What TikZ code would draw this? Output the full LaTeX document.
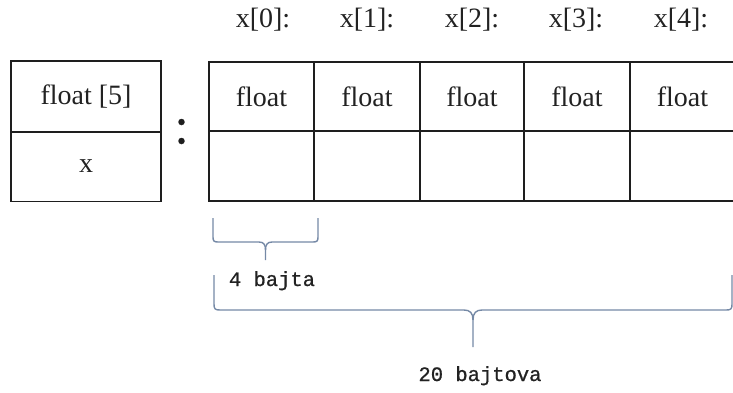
\documentclass[tikz,border=0pt]{standalone}
\usepackage{fontspec}
\setmainfont{Liberation Serif}
\newfontfamily\bracefont[FakeBold=0.8]{Liberation Mono}
\definecolor{gridcol}{HTML}{1E1E1E}
\definecolor{textcol}{HTML}{222222}
\definecolor{bracecol}{HTML}{7589A6}
\begin{document}
\begin{tikzpicture}[x=1pt,y=-1pt,
  cellbox/.style={draw=gridcol, line width=1.7pt, inner sep=0pt,
    minimum height=#1, text=textcol, font=\fontsize{28}{32}\selectfont},
  hdr/.style={text=textcol, anchor=base, inner sep=0pt, font=\fontsize{28}{32}\selectfont},
  dotmark/.style={circle, fill=gridcol, inner sep=0pt, minimum size=6.5pt},
  bracepath/.style={draw=bracecol, line width=1.4pt},
  bracelabel/.style={text=textcol, anchor=base, inner sep=0pt, font=\bracefont\fontsize{20.5}{24}\selectfont}]
\useasboundingbox (0,0) rectangle (733,392);
\clip (0,0) rectangle (733,392);

% declaration box: type on top, name below
\node[cellbox=71pt, minimum width=150pt] (type) at (86,96.5) {float [5]};
\node[cellbox=70pt, minimum width=150pt] (name) at (86,166.5) {x};

% colon between declaration and memory layout
\node[dotmark] (dotA) at (181.5,122) {};
\node[dotmark] (dotB) at (181.5,141) {};

% array elements, top row: element type, bottom row: value
\node[cellbox=69pt, minimum width=105pt] (t0) at (261.5,96.5) {float};
\node[cellbox=69pt, minimum width=106pt] (t1) at (367,96.5) {float};
\node[cellbox=69pt, minimum width=104pt] (t2) at (472,96.5) {float};
\node[cellbox=69pt, minimum width=106pt] (t3) at (577,96.5) {float};
\node[cellbox=69pt, minimum width=116pt] (t4) at (688,96.5) {\hspace*{-11pt}float};
\node[cellbox=70pt, minimum width=105pt] (v0) at (261.5,166) {};
\node[cellbox=70pt, minimum width=106pt] (v1) at (367,166) {};
\node[cellbox=70pt, minimum width=104pt] (v2) at (472,166) {};
\node[cellbox=70pt, minimum width=106pt] (v3) at (577,166) {};
\node[cellbox=70pt, minimum width=116pt] (v4) at (688,166) {};

% element labels above the cells
\node[hdr] (h0) at (263,27) {x[0]:};
\node[hdr] (h1) at (367,27) {x[1]:};
\node[hdr] (h2) at (472,27) {x[2]:};
\node[hdr] (h3) at (576,27) {x[3]:};
\node[hdr] (h4) at (681,27) {x[4]:};

% brace under one element
\coordinate (sL) at (213,218);
\coordinate (sR) at (318,218);
\coordinate (sTip) at (265.5,260);
\draw[bracepath] (sL) -- (213,237) .. controls (213,241) and (214,242) .. (218,242)
  -- (259,242) .. controls (264,242) and (265.5,245) .. (265.5,250) -- (sTip);
\draw[bracepath] (265.5,250) .. controls (265.5,245) and (267,242) .. (272,242)
  -- (313,242) .. controls (317,242) and (318,241) .. (318,237) -- (sR);
\node[bracelabel] (lab4) at (272,286) {4 bajta};

% brace under the whole array
\coordinate (bL) at (214,275);
\coordinate (bR) at (732,275);
\coordinate (bTip) at (473,347);
\draw[bracepath] (bL) -- (214,304) .. controls (214,309) and (215,310) .. (220,310)
  -- (464,310) .. controls (470,310) and (473,313) .. (473,320) -- (bTip);
\draw[bracepath] (473,320) .. controls (473,313) and (476,310) .. (482,310)
  -- (726,310) .. controls (731,310) and (732,309) .. (732,304) -- (bR);
\node[bracelabel] (lab20) at (480,381) {20 bajtova};
\end{tikzpicture}
\end{document}
